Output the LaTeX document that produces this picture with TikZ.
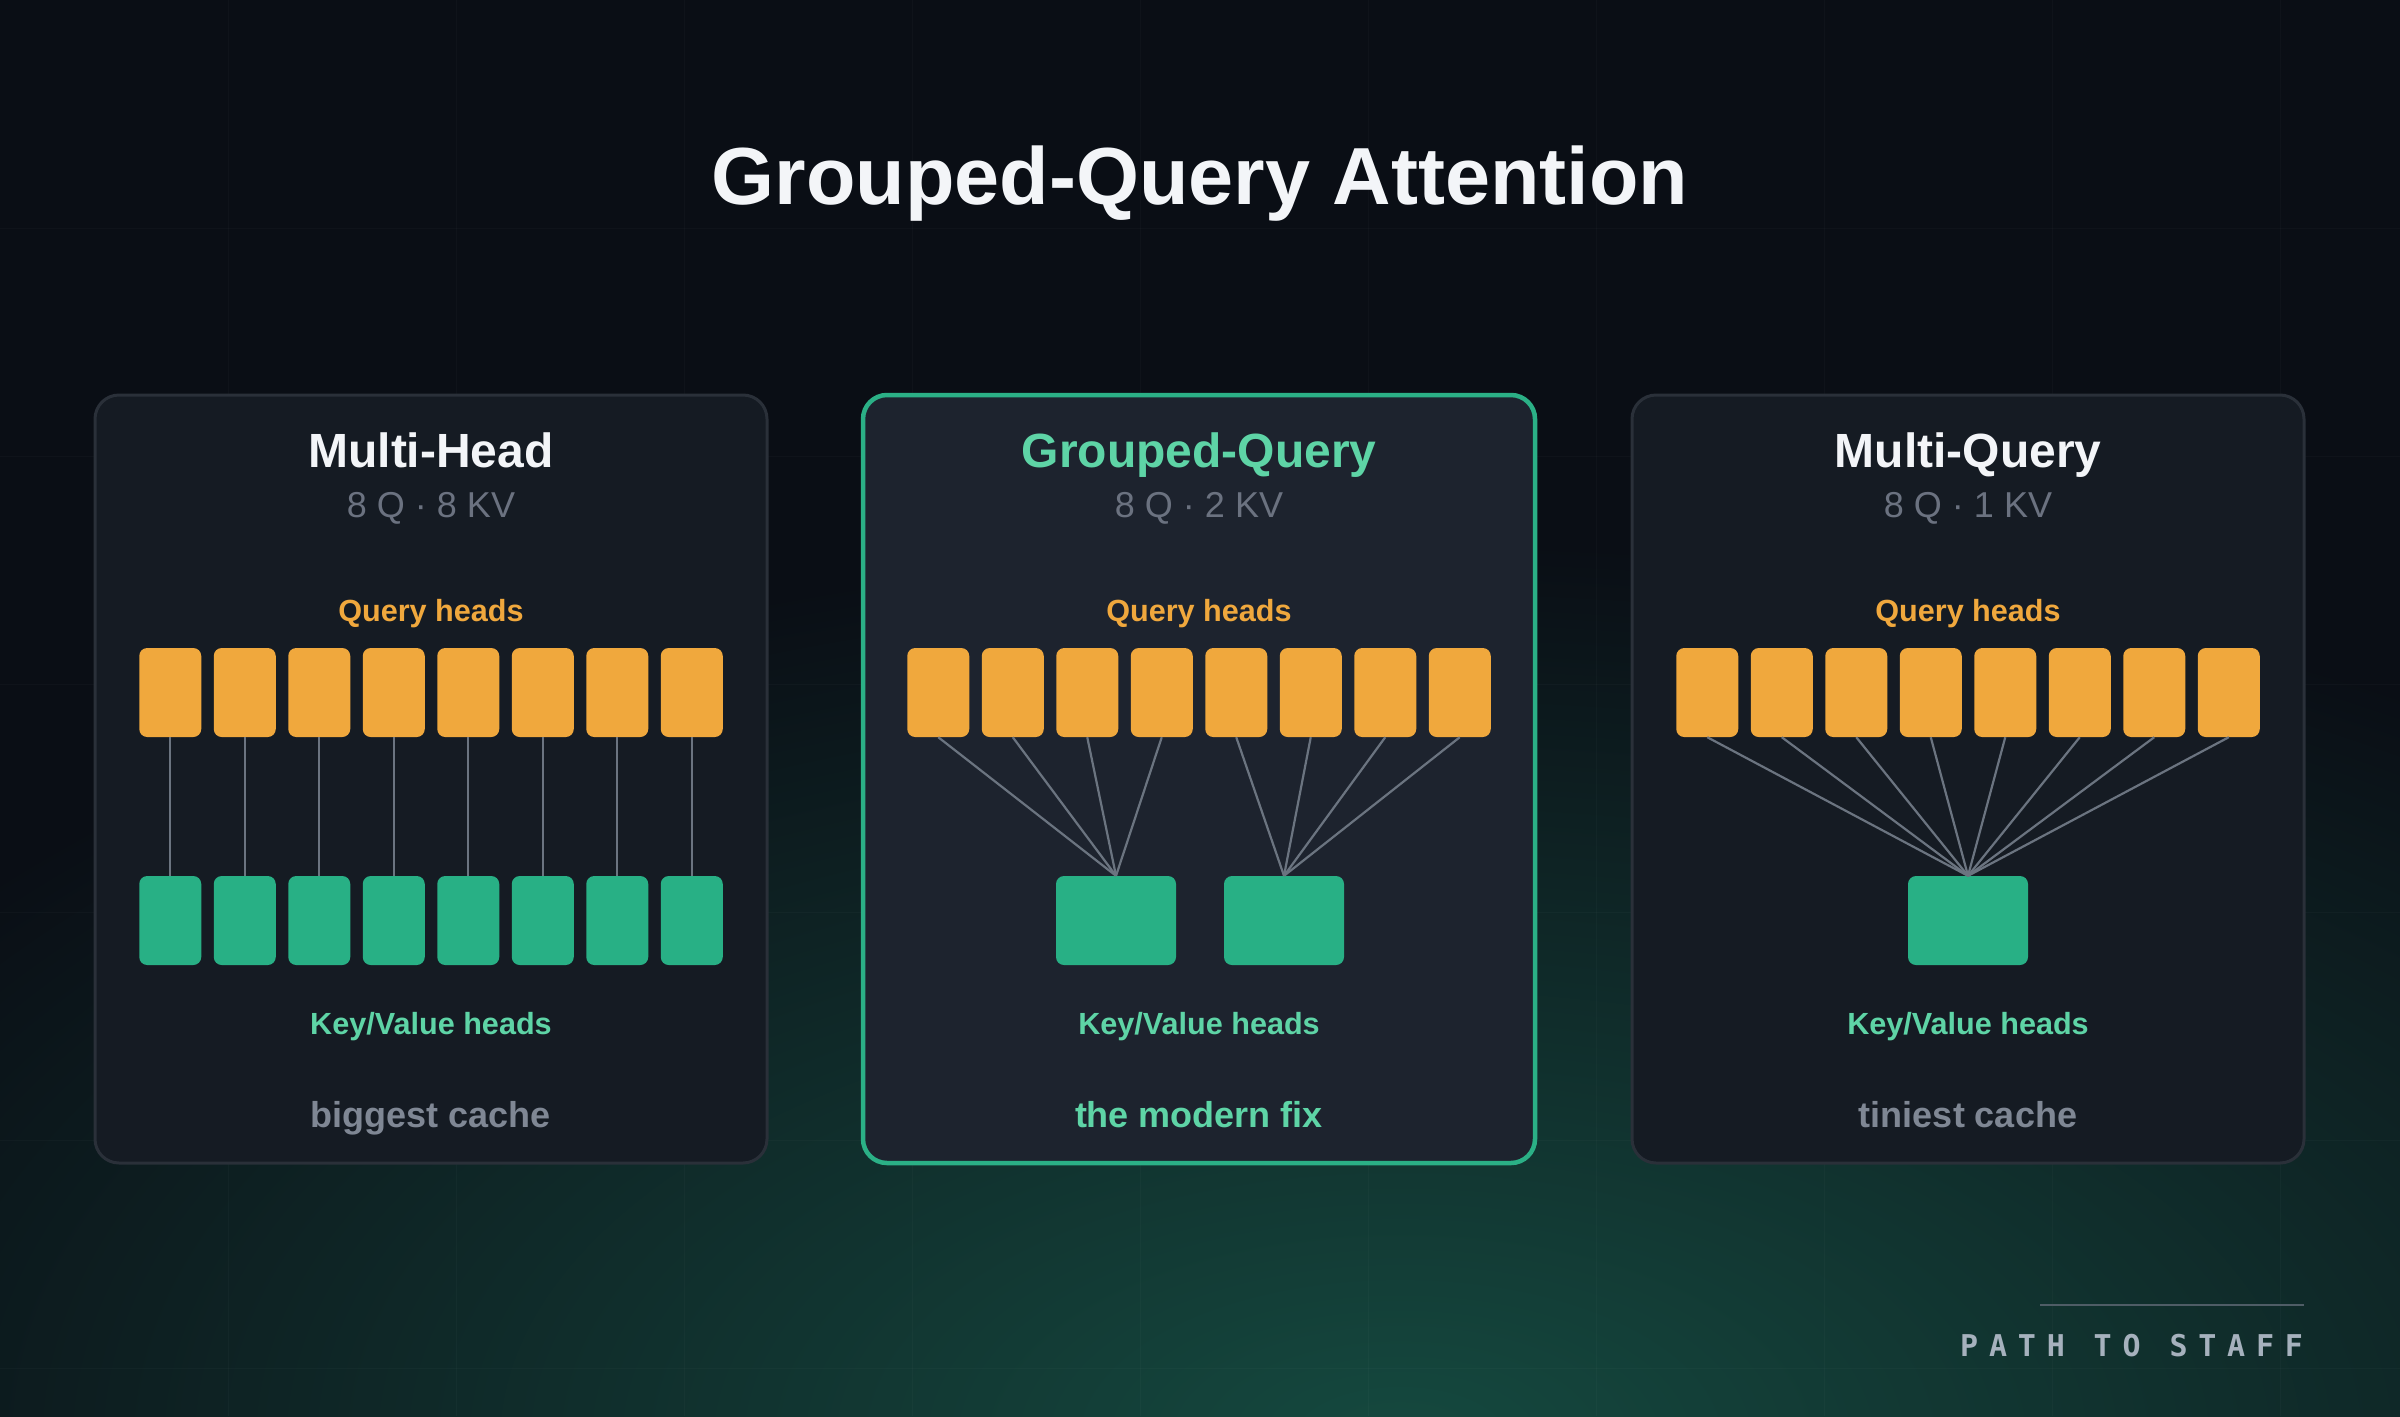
\documentclass[tikz,border=0pt]{standalone}
\usepackage{fontspec}
\setmainfont{Liberation Sans}
\newfontfamily\brandfont[LetterSpace=36]{DejaVu Sans Mono}
\usepackage{tikz}
\usetikzlibrary{positioning}
\usepackage{xcolor}
\definecolor{bg}{HTML}{0A0E15}
\definecolor{glow}{HTML}{15493F}
\definecolor{panelfill}{HTML}{151B23}
\definecolor{panelfillhi}{HTML}{1D232E}
\definecolor{panelline}{HTML}{2A3039}
\definecolor{accent}{HTML}{2BB086}
\definecolor{mint}{HTML}{5ED4A6}
\definecolor{qorange}{HTML}{F0A83D}
\definecolor{kvgreen}{HTML}{28B085}
\definecolor{linkgray}{HTML}{6B7480}
\definecolor{subgray}{HTML}{6B7280}
\definecolor{capgray}{HTML}{7F8794}
\definecolor{titlewhite}{HTML}{F3F5F8}
\definecolor{brandgray}{HTML}{A6B1BD}
\definecolor{brandline}{HTML}{4F5D66}

\begin{document}
\begin{tikzpicture}[x=1pt,y=-1pt,
  panel/.style={draw=panelline,line width=3pt,fill=panelfill,rounded corners=24pt,minimum width=672pt,minimum height=768pt,inner sep=0pt},
  qbox/.style={fill=qorange,rounded corners=8pt,minimum width=62pt,minimum height=89pt,inner sep=0pt},
  kvbox/.style={fill=kvgreen,rounded corners=8pt,minimum height=89pt,inner sep=0pt},
  link/.style={draw=linkgray,line width=2.2pt},
  lbl/.style={anchor=base,inner sep=0pt},
  head/.style={lbl,font=\bfseries\fontsize{48}{58}\selectfont,text=titlewhite},
  sub/.style={lbl,font=\fontsize{36}{43}\selectfont,text=subgray},
  small/.style={lbl,font=\bfseries\fontsize{30.6}{36}\selectfont},
  note/.style={lbl,font=\bfseries\fontsize{36}{43}\selectfont}]
\useasboundingbox (0,0) rectangle (2400,1416);
% background, glow and faint grid
\begin{scope}
\clip (0,0) rectangle (2400,1416);
\fill[bg] (0,0) rectangle (2400,1416);
\shade[inner color=glow,outer color=bg] (1400,1440) ellipse (1800 and 900);
\foreach \g in {228,456,...,2280} \draw[white,opacity=.025,line width=1pt] (\g,0) -- (\g,1416);
\foreach \g in {228,456,...,1368} \draw[white,opacity=.025,line width=1pt] (0,\g) -- (2400,\g);
\end{scope}

\node[lbl,font=\bfseries\fontsize{81}{97}\selectfont,text=titlewhite] (title) at (1200,204) {Grouped-Query Attention};

% panels
\node[panel] (mh) at (431,779) {};
\node[panel,draw=accent,line width=4.5pt,fill=panelfillhi] (gq) at (1199,779) {};
\node[panel] (mq) at (1968,779) {};

\node[head] (mh-name) at (431,467) {Multi-Head};
\node[sub] (mh-sub) at (431,517) {8 Q · 8 KV};
\node[head,text=mint] (gq-name) at (1199,467) {Grouped-Query};
\node[sub] (gq-sub) at (1199,517) {8 Q · 2 KV};
\node[head] (mq-name) at (1968,467) {Multi-Query};
\node[sub] (mq-sub) at (1968,517) {8 Q · 1 KV};

\foreach \p/\cx in {mh/431,gq/1199,mq/1968}{
  \node[small,text=qorange] (\p-qlbl) at (\cx,621) {Query heads};
  \node[small,text=mint] (\p-klbl) at (\cx,1034) {Key/Value heads};
  \foreach \i in {1,...,8}
    \node[qbox] (\p-q\i) at ({\cx+(\i-4.5)*74.5},692.5) {};
}
\node[note,text=capgray] (mh-note) at (431,1127) {biggest cache};
\node[note,text=mint] (gq-note) at (1199,1127) {the modern fix};
\node[note,text=capgray] (mq-note) at (1968,1127) {tiniest cache};

% multi-head: one kv per query
\foreach \i in {1,...,8}{
  \node[kvbox,minimum width=62pt] (mh-k\i) at ({431+(\i-4.5)*74.5},920.5) {};
  \draw[link] (mh-q\i.south) -- (mh-k\i.north);
}

% grouped-query: two shared kv
\node[kvbox,minimum width=120pt] (gq-k1) at (1116,920.5) {};
\node[kvbox,minimum width=120pt] (gq-k2) at (1284,920.5) {};
\foreach \i in {1,...,4} \draw[link] (gq-q\i.south) -- (gq-k1.north);
\foreach \i in {5,...,8} \draw[link] (gq-q\i.south) -- (gq-k2.north);

% multi-query: one kv
\node[kvbox,minimum width=120pt] (mq-k) at (1968,920.5) {};
\foreach \i in {1,...,8} \draw[link] (mq-q\i.south) -- (mq-k.north);

% brand
\coordinate (rule-l) at (2040,1305);
\coordinate (rule-r) at (2304,1305);
\draw[brandline,line width=2pt] (rule-l) -- (rule-r);
\node[anchor=base west,inner sep=0pt,text=brandgray,font=\brandfont\bfseries\fontsize{30}{36}\selectfont] (brand) at (1960,1356) {PATH TO STAFF};
\end{tikzpicture}
\end{document}
